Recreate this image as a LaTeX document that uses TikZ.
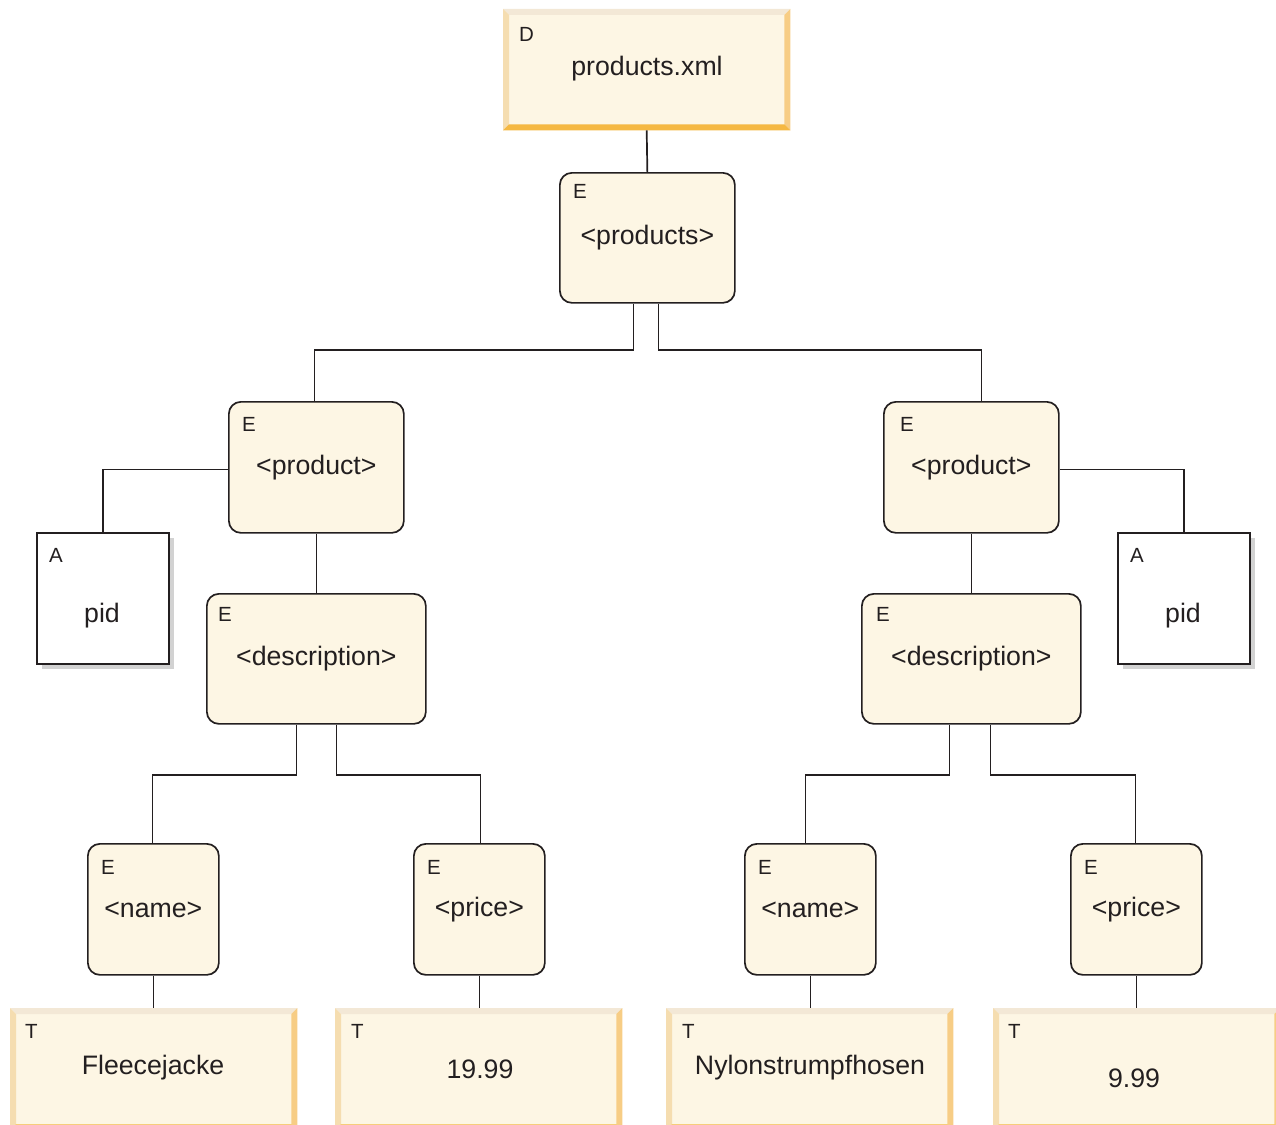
\documentclass[tikz,border=0pt]{standalone}
\usepackage{fontspec}
\setmainfont{Liberation Sans}
\usetikzlibrary{shadows}
\definecolor{cream}{HTML}{FDF6E4}
\definecolor{edgeTop}{HTML}{F3E8D6}
\definecolor{edgeLeft}{HTML}{F5DDB0}
\definecolor{edgeRight}{HTML}{F7CD85}
\definecolor{edgeBot}{HTML}{F5B842}
\definecolor{ink}{HTML}{231F20}
\definecolor{shade}{HTML}{D2D2D2}
\begin{document}
\begin{tikzpicture}[x=1pt,y=-1pt,
  elem/.style={draw=ink, line width=1.7pt, fill=cream, rounded corners=12pt, anchor=north west, inner sep=0pt,
    font=\fontsize{26.7}{31}\selectfont, text=ink},
  attr/.style={draw=ink, line width=1.7pt, fill=white, minimum width=132pt, minimum height=131pt, anchor=north west, inner sep=0pt,
    drop shadow={shadow xshift=5pt, shadow yshift=-5pt, fill=shade, opacity=1}},
  bev/.style={fill=cream, minimum width=287pt, anchor=north west, inner sep=0pt},
  kind/.style={font=\fontsize{20.5}{24}\selectfont, text=ink, anchor=west, inner sep=0pt},
  txt/.style={font=\fontsize{26.7}{31}\selectfont, text=ink, inner sep=0pt},
  conn/.style={draw=ink, line width=1.7pt}
]
\useasboundingbox (0,0) rectangle (1276,1124);

% document and text boxes (bevelled)
\node[bev, minimum height=121pt] (doc) at (503,9) {};
\node[bev, minimum height=122pt] (tA) at (10,1008) {};
\node[bev, minimum height=122pt] (tB) at (335,1008) {};
\node[bev, minimum height=122pt] (tC) at (666,1008) {};
\node[bev, minimum height=122pt] (tD) at (993,1008) {};
\foreach \n in {doc,tA,tB,tC,tD}{
  \fill[edgeTop] (\n.north west) -- (\n.north east) -- ([shift={(-6pt,-6pt)}]\n.north east) -- ([shift={(6pt,-6pt)}]\n.north west) -- cycle;
  \fill[edgeLeft] (\n.north west) -- ([shift={(6pt,-6pt)}]\n.north west) -- ([shift={(6pt,6pt)}]\n.south west) -- (\n.south west) -- cycle;
  \fill[edgeRight] (\n.north east) -- (\n.south east) -- ([shift={(-6pt,6pt)}]\n.south east) -- ([shift={(-6pt,-6pt)}]\n.north east) -- cycle;
  \fill[edgeBot] (\n.south west) -- (\n.south east) -- ([shift={(-6pt,6pt)}]\n.south east) -- ([shift={(6pt,6pt)}]\n.south west) -- cycle;
}

% element boxes
\node[elem, minimum width=175pt, minimum height=130pt] (products) at (559,172) {<products>};
\node[elem, minimum width=175pt, minimum height=131pt] (prodL) at (228,401) {<product>};
\node[elem, minimum width=175pt, minimum height=131pt] (prodR) at (883,401) {<product>};
\node[elem, minimum width=219pt, minimum height=130pt] (descL) at (206,593) {<description>};
\node[elem, minimum width=219pt, minimum height=130pt] (descR) at (861,593) {<description>};
\node[elem, minimum width=131pt, minimum height=131pt] (nameL) at (87,843) {<name>};
\node[elem, minimum width=131pt, minimum height=131pt] (priceL) at (413,843) {<price>};
\node[elem, minimum width=131pt, minimum height=131pt] (nameR) at (744,843) {<name>};
\node[elem, minimum width=131pt, minimum height=131pt] (priceR) at (1070,843) {<price>};

% attribute boxes
\node[attr] (attrL) at (36,532) {};
\node[attr] (attrR) at (1117,532) {};

% kind letters
\node[kind] (kD) at (519,34) {D};
\node[kind] (kP) at (573,191) {E};
\node[kind] (kPL) at (242,424) {E};
\node[kind] (kPR) at (900,424) {E};
\node[kind] (kDL) at (218,614) {E};
\node[kind] (kDR) at (876,614) {E};
\node[kind] (kNL) at (101,867) {E};
\node[kind] (kPrL) at (427,867) {E};
\node[kind] (kNR) at (758,867) {E};
\node[kind] (kPrR) at (1084,867) {E};
\node[kind] (kAL) at (49,555) {A};
\node[kind] (kAR) at (1130,555) {A};
\node[kind] (kTA) at (25,1031) {T};
\node[kind] (kTB) at (351,1031) {T};
\node[kind] (kTC) at (682,1031) {T};
\node[kind] (kTD) at (1008,1031) {T};

% main texts
\node[txt] (docT) at (647,69) {products.xml};
\node[txt] (pidL) at (102,616) {pid};
\node[txt] (pidR) at (1183,616) {pid};
\node[txt] (tAT) at (153,1068) {Fleecejacke};
\node[txt] (tBT) at (480,1069) {19.99};
\node[txt] (tCT) at (810,1068) {Nylonstrumpfhosen};
\node[txt] (tDT) at (1134,1078) {9.99};

% connectors
\draw[conn] (doc.south) -- (products.north);
\draw[conn] ([xshift=-14pt]products.south) -- ++(0,46) -| ([xshift=-2pt]prodL.north);
\draw[conn] ([xshift=11pt]products.south) -- ++(0,46) -| ([xshift=10pt]prodR.north);
\draw[conn] ([yshift=-2pt]prodL.west) -| (attrL.north);
\draw[conn] ([yshift=-2pt]prodR.east) -| (attrR.north);
\draw[conn] (prodL.south) -- (descL.north);
\draw[conn] (prodR.south) -- (descR.north);
\draw[conn] ([xshift=-20pt]descL.south) -- ++(0,50) -| ([xshift=-1pt]nameL.north);
\draw[conn] ([xshift=20pt]descL.south) -- ++(0,50) -| ([xshift=1pt]priceL.north);
\draw[conn] ([xshift=-22pt]descR.south) -- ++(0,50) -| ([xshift=-5pt]nameR.north);
\draw[conn] ([xshift=19pt]descR.south) -- ++(0,50) -| ([xshift=-1pt]priceR.north);
\draw[conn] (nameL.south) -- (nameL.south |- tA.north);
\draw[conn] (priceL.south) -- (priceL.south |- tB.north);
\draw[conn] (nameR.south) -- (nameR.south |- tC.north);
\draw[conn] (priceR.south) -- (priceR.south |- tD.north);
\end{tikzpicture}
\end{document}
